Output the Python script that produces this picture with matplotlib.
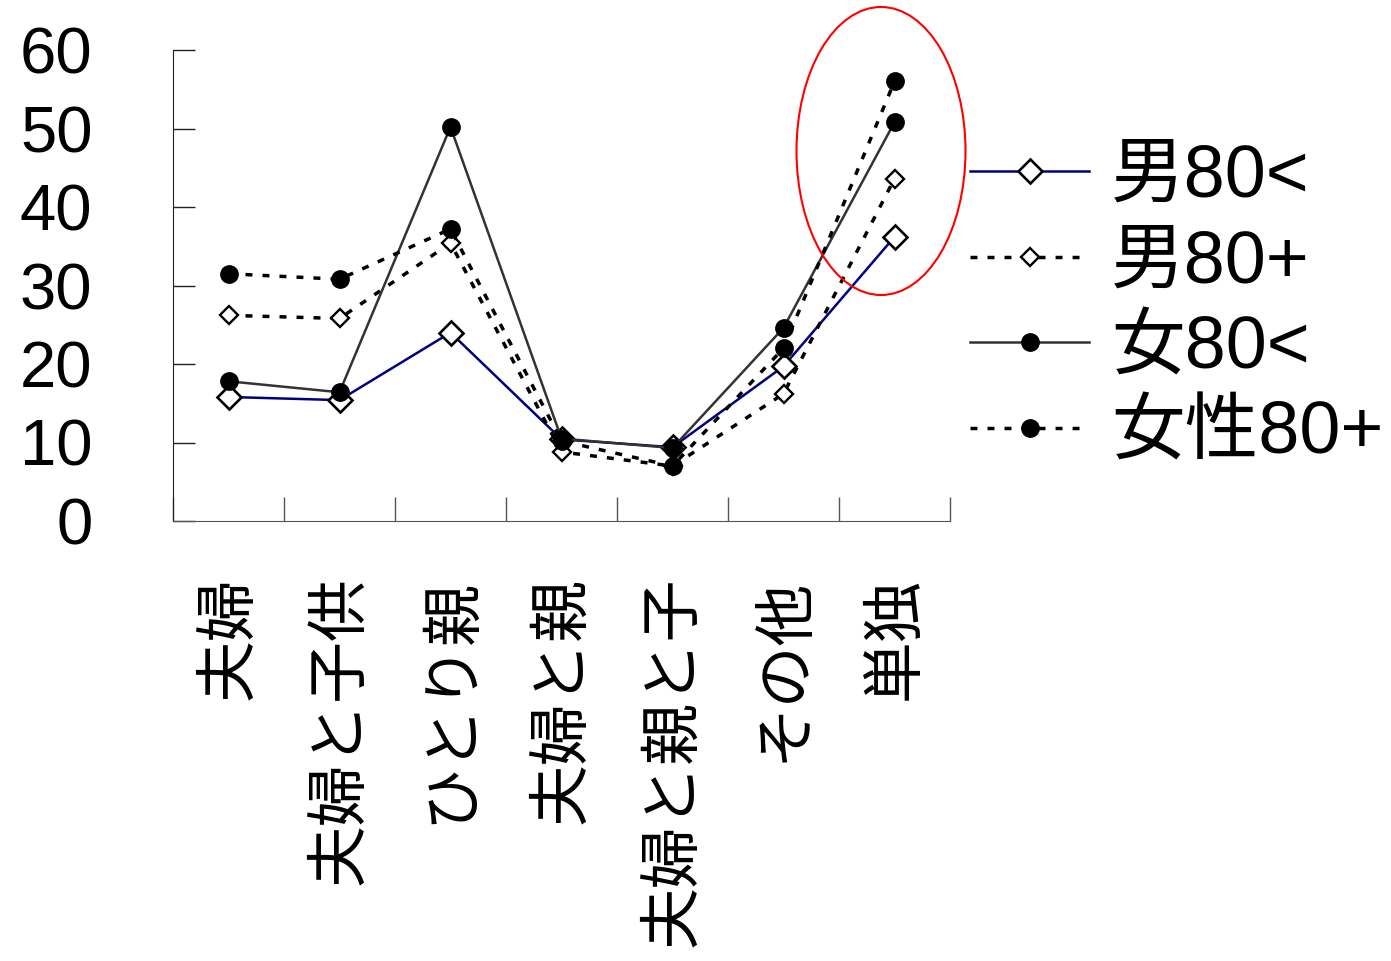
import matplotlib
matplotlib.use("Agg")
import matplotlib.pyplot as plt
from matplotlib.patches import Ellipse

plt.rcParams['font.family'] = ['Liberation Sans', 'Noto Sans CJK JP', 'DejaVu Sans']

categories = ['夫婦', '夫婦と子供', 'ひとり親', '夫婦と親', '夫婦と親と子', 'その他', '単独']
series_names = ['男80<', '男80+', '女80<', '女性80+']
male_lt80 = [15.8, 15.4, 24.0, 10.4, 9.4, 19.7, 36.2]
male_80p = [26.2, 25.8, 35.4, 8.8, 7.0, 16.2, 43.6]
female_lt80 = [17.8, 16.4, 50.2, 10.5, 9.3, 24.6, 50.8]
female_80p = [31.5, 30.8, 37.2, 10.2, 7.0, 22.0, 56.0]
yticks = [0, 10, 20, 30, 40, 50, 60]

W, H = 1391, 961
fig = plt.figure(figsize=(W / 100, H / 100), dpi=100)
ax = fig.add_axes([173 / W, 1 - 521 / H, 777 / W, 471 / H])

x = [i + 0.5 for i in range(len(categories))]
dots = (0, (2, 2.9))

ax.plot(x, male_lt80, color='#000080', lw=1.8, marker='D', ms=12.5,
        mfc='white', mec='black', mew=1.9, label=series_names[0], zorder=3)
ax.plot(x, male_80p, color='black', lw=2.5, ls=dots, marker='D', ms=9.5,
        mfc='white', mec='black', mew=1.7, label=series_names[1], zorder=3)
ax.plot(x, female_lt80, color='#333333', lw=1.8, marker='o', ms=12.5,
        mfc='black', mec='black', label=series_names[2], zorder=4)
ax.plot(x, female_80p, color='black', lw=2.5, ls=dots, marker='o', ms=12.5,
        mfc='black', mec='black', label=series_names[3], zorder=4)

ax.set_xlim(0, len(categories))
ax.set_ylim(0, 60)
ax.set_yticks(yticks)
ax.set_yticklabels([str(v) for v in yticks], fontsize=47, family='Liberation Sans')
ax.set_xticks(range(len(categories) + 1))
ax.set_xticklabels([])
ax.set_xticks(x, minor=True)
ax.set_xticklabels(categories, minor=True, rotation=90, fontsize=44.5,
                   family=['Noto Sans CJK JP'])
ax.tick_params(axis='x', which='minor', length=0, pad=40)
ax.tick_params(axis='x', which='major', direction='in', length=17, width=1, color='#555555')
ax.tick_params(axis='y', direction='in', length=16, width=1, color='#222222', pad=58)

for s in ['top', 'right']:
    ax.spines[s].set_visible(False)
ax.spines['left'].set_color('#222222')
ax.spines['bottom'].set_color('#555555')

leg = ax.legend(loc='upper left', bbox_to_anchor=(970 / W, 1 - 143 / H),
                bbox_transform=fig.transFigure, frameon=False,
                prop={'family': ['Liberation Sans', 'Noto Sans CJK JP'], 'size': 53},
                handlelength=1.62, handletextpad=0.3, labelspacing=0.225,
                borderaxespad=0, borderpad=0)

ell = Ellipse((881 / W, 1 - 151 / H), 169 / W, 288 / H, transform=fig.transFigure,
              fill=False, edgecolor='red', lw=1.5, clip_on=False)
fig.patches.append(ell)

fig.savefig('out.png', dpi=100)
